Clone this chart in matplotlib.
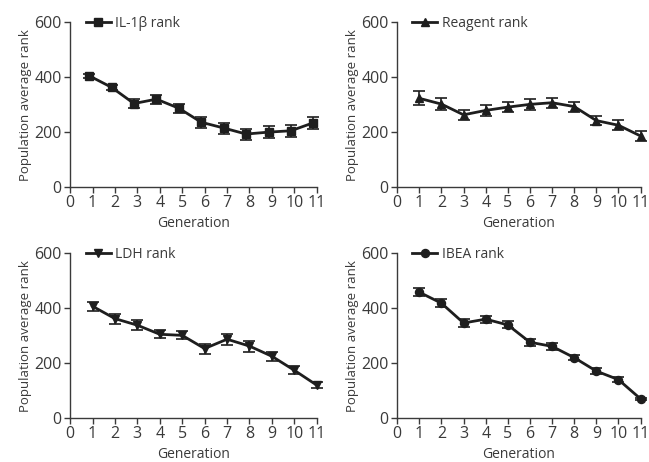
import numpy as np
import matplotlib
matplotlib.use("Agg")
import matplotlib.pyplot as plt

plt.rcParams['font.family'] = ['Open Sans', 'DejaVu Sans']

generations = np.arange(1, 12)

il1b_mean = [405, 363, 304, 320, 287, 236, 215, 193, 200, 205, 234]
il1b_err = [8, 10, 15, 16, 16, 20, 20, 20, 22, 22, 22]

reagent_mean = [323, 302, 263, 279, 291, 301, 307, 293, 242, 225, 186]
reagent_err = [25, 22, 18, 20, 18, 20, 18, 18, 15, 18, 18]

ldh_mean = [407, 362, 338, 305, 301, 253, 287, 262, 225, 174, 120]
ldh_err = [17, 18, 18, 15, 15, 18, 20, 20, 17, 15, 10]

ibea_mean = [458, 418, 346, 360, 339, 276, 261, 220, 171, 140, 70]
ibea_err = [15, 15, 15, 13, 13, 13, 14, 10, 10, 10, 4]

panels = [
    ('IL-1\u03b2 rank', il1b_mean, il1b_err, 's', -0.15),
    ('Reagent rank', reagent_mean, reagent_err, '^', 0.0),
    ('LDH rank', ldh_mean, ldh_err, 'v', 0.0),
    ('IBEA rank', ibea_mean, ibea_err, 'o', 0.0),
]

positions = [
    [0.108, 0.595, 0.380, 0.357],
    [0.612, 0.595, 0.375, 0.357],
    [0.108, 0.095, 0.380, 0.357],
    [0.612, 0.095, 0.375, 0.357],
]

lineCol = '#1e1e1e'
axisCol = '#3a3a3a'
textCol = '#3a3a3a'

fig = plt.figure(figsize=(6.49, 4.62), dpi=100)

for (label, mean, err, marker, shift), pos in zip(panels, positions):
    ax = fig.add_axes(pos)
    x = generations + shift
    ax.errorbar(x, mean, yerr=err, fmt='none', ecolor=lineCol,
                elinewidth=1.2, capsize=4.5, capthick=1.2,
                clip_on=False, zorder=2)
    ax.plot(x, mean, color=lineCol, lw=2.0, marker=marker, ms=5.8,
            label=label, clip_on=False, zorder=3)
    ax.set_xlim(0, 11)
    ax.set_ylim(0, 600)
    ax.set_xticks(range(0, 12))
    ax.set_yticks([0, 200, 400, 600])
    for s in ['top', 'right']:
        ax.spines[s].set_visible(False)
    for s in ['left', 'bottom']:
        ax.spines[s].set_color(axisCol)
        ax.spines[s].set_linewidth(1.0)
    ax.tick_params(direction='out', length=4, width=1.0, color=axisCol,
                   labelcolor=textCol, labelsize=11.5, pad=2)
    ax.set_xlabel('Generation', fontsize=10, color=textCol, labelpad=3)
    ax.set_ylabel('Population average rank', fontsize=9.5, color=textCol, labelpad=2)
    leg = ax.legend(loc='upper left', bbox_to_anchor=(0.04, 1.07), frameon=False,
                    handlelength=1.8, handletextpad=0.3, fontsize=10,
                    borderaxespad=0)
    for t in leg.get_texts():
        t.set_color(textCol)

fig.savefig('out.png', dpi=100)
